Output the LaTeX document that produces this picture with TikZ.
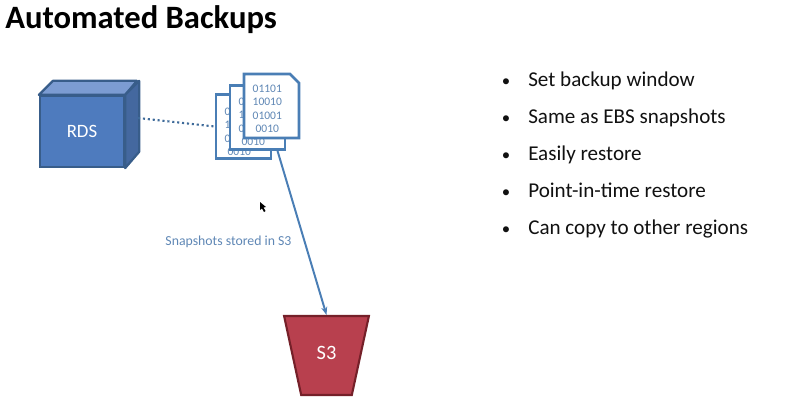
\documentclass[tikz,border=0pt]{standalone}
\usepackage{fontspec}
\setmainfont{Carlito}
\usetikzlibrary{arrows.meta,calc,shapes.geometric,shapes.misc}
\definecolor{rdsfill}{HTML}{4E7BBE}
\definecolor{rdstop}{HTML}{7C9CD2}
\definecolor{rdsside}{HTML}{44689F}
\definecolor{rdsedge}{HTML}{385D8A}
\definecolor{docline}{HTML}{4A7EB5}
\definecolor{doctx}{HTML}{5F87B5}
\definecolor{s3fill}{HTML}{B8404E}
\definecolor{s3edge}{HTML}{752029}
\definecolor{ink}{HTML}{111111}
\tikzset{
  docpage/.style={draw=docline,line width=1.8pt,fill=white,inner sep=0pt,
                  minimum width=1.375cm,minimum height=1.6cm,align=center,
                  text=doctx,font=\fontsize{8.2}{9.6}\selectfont},
  bucket/.style={trapezium,shape border rotate=180,trapezium stretches=true,
                 trapezium angle=65,draw=s3edge,line width=1.5pt,fill=s3fill,
                 inner sep=0pt,minimum width=2.125cm,minimum height=1.975cm,
                 text=white,font=\fontsize{14.5}{16}\selectfont},
  listitem/.style={anchor=base west,inner sep=0pt,text=ink,font=\fontsize{15}{18}\selectfont},
}
\newcommand{\bits}[1]{\smash{\raisebox{#1}{\begin{tabular}{@{}c@{\hspace{6pt}}}\rule{0pt}{9.7pt}01101\\10010\\01001\\0010\end{tabular}}}}
\begin{document}
\begin{tikzpicture}[x=0.025cm,y=-0.025cm]
  \useasboundingbox (0,0) rectangle (800,415);

  \node[anchor=base west,inner sep=0pt,font=\fontsize{23.2}{26}\selectfont\bfseries,text=black]
       (title) at (5,28) {Automated Backups};

  % RDS block, faces hung on the front node
  \node[draw=rdsedge,line width=1.6pt,fill=rdsfill,inner sep=0pt,
        minimum width=2.1cm,minimum height=1.775cm,text=white,
        font=\fontsize{13.4}{15}\selectfont] (rds) at (82,131.5) {RDS};
  \fill[rdstop,draw=rdsedge,line width=1.6pt,line join=round] (rds.north west) -- ++(14,-14) -- ++(84,0)
       -- (rds.north east) -- cycle;
  \fill[rdsside,draw=rdsedge,line width=1.6pt,line join=round] (rds.north east) -- ++(14,-14) -- ++(0,71)
       -- (rds.south east) -- cycle;
  \coordinate (rdsback) at (138,118);

  % Snapshot pages
  \node[docpage] (doc1) at (243.5,126.5) {\bits{-5pt}};
  \node[docpage] (doc2) at (257.5,117.5) {\bits{-4.3pt}};
  \node[docpage,chamfered rectangle,chamfered rectangle corners=north east,
        chamfered rectangle xsep=6.4pt,chamfered rectangle ysep=6.4pt] (doc3)
       at (271.5,106) {\bits{-3.2pt}};

  \node[bucket] (s3) at (326.5,355.5) {\raisebox{2.5pt}[0.7em][0pt]{S3}};

  \draw[docline!85!black,line width=1.5pt,dotted] (rdsback) -- (doc1.west);
  \draw[-{Stealth[length=2mm]},docline,line width=1.4pt] (doc2.-59) -- (s3.north);

  \node[text=doctx,font=\fontsize{9.8}{11}\selectfont] (snaplabel) at (228.5,242)
       {Snapshots stored in S3};

  % Pointer
  \fill[black] (260,202) -- (260,210) -- (262,208.5) -- (264,212) -- (265.5,211)
       -- (263.5,207.5) -- (266,207) -- cycle;

  % Bullet list
  \foreach \n/\y/\t in {1/86.5/Set backup window, 2/123.5/Same as EBS snapshots,
                        3/160.5/Easily restore, 4/197.5/Point-in-time restore,
                        5/234.5/Can copy to other regions}{
    \node[anchor=base,inner sep=0pt,text=ink,font=\fontsize{12}{14}\selectfont] (dot\n) at (506,\y) {•};
    \node[listitem] (item\n) at (528,\y) {\t};}
\end{tikzpicture}
\end{document}
